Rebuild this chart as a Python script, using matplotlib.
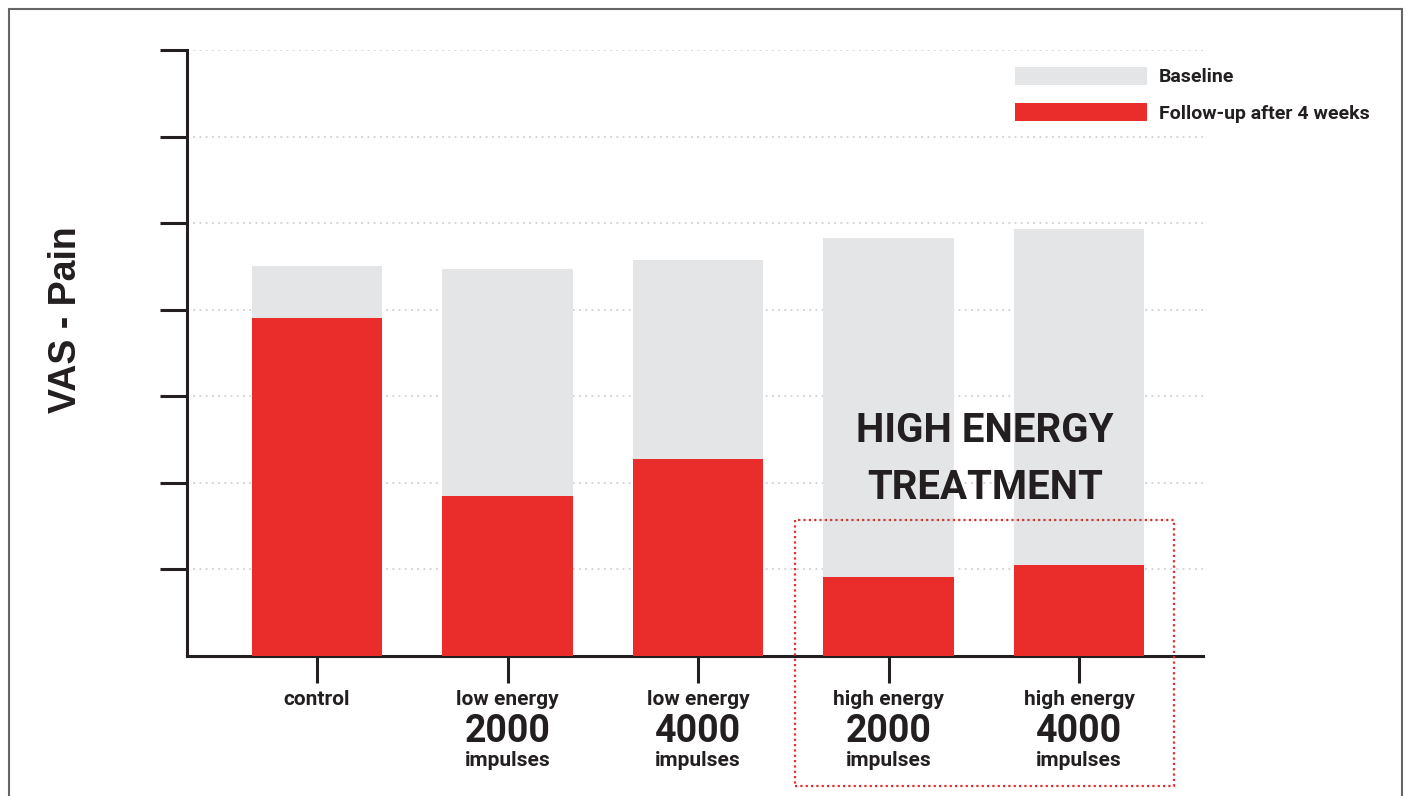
import matplotlib
matplotlib.use("Agg")
import matplotlib.pyplot as plt
from matplotlib.patches import Rectangle
import numpy as np

# VAS pain scores per group
groups = ["control", "low energy", "low energy", "high energy", "high energy"]
doses = ["", "2000", "4000", "2000", "4000"]
baseline = [4.50, 4.47, 4.58, 4.83, 4.93]
follow_up = [3.90, 1.85, 2.27, 0.91, 1.05]

GREY = "#e4e5e7"
RED = "#ea2c2a"
INK = "#231f20"
FONT = "Roboto"

fig = plt.figure(figsize=(14.07, 7.96), dpi=100)
ax = fig.add_axes([187 / 1407, 140 / 796, 1016 / 1407, 606 / 796])

x = np.arange(len(groups))
ax.bar(x, baseline, width=0.684, color=GREY, zorder=2, label="Baseline")
ax.bar(x, follow_up, width=0.684, color=RED, zorder=3, label="Follow-up after 4 weeks")

ax.set_xlim(-0.682, 4.65)
ax.set_ylim(0, 7)
ax.set_yticks(np.arange(1, 8))
ax.set_yticklabels([])
ax.set_xticks(x)
ax.set_xticklabels([])
ax.tick_params(axis="both", length=19.5, width=2.2, color=INK, direction="out")
ax.grid(axis="y", color="#d6d6d6", linestyle=(0, (1, 2.2)), linewidth=1.4, zorder=0)

for side in ["top", "right"]:
    ax.spines[side].set_visible(False)
for side in ["left", "bottom"]:
    ax.spines[side].set_linewidth(2.2)
    ax.spines[side].set_color(INK)

ax.set_ylabel("VAS - Pain", fontsize=27, fontweight="bold", family="Liberation Sans",
              color=INK)
ax.yaxis.set_label_coords(-0.101, 0.555)

# group labels under the axis
for xi, g, d in zip(x, groups, doses):
    ax.text(xi, -0.50, g, ha="center", va="center", fontsize=15, fontweight="bold",
            family=FONT, color=INK, clip_on=False)
    if d:
        ax.text(xi, -0.875, d, ha="center", va="center", fontsize=27, fontweight="bold",
                family=FONT, color=INK, clip_on=False)
        ax.text(xi, -1.205, "impulses", ha="center", va="center", fontsize=15,
                fontweight="bold", family=FONT, color=INK, clip_on=False)

ax.text(3.507, 2.60, "HIGH ENERGY", ha="center", va="center", fontsize=29,
        fontweight="bold", family=FONT, color=INK, zorder=5)
ax.text(3.507, 1.94, "TREATMENT", ha="center", va="center", fontsize=29,
        fontweight="bold", family=FONT, color=INK, zorder=5)

# dotted outline around the high energy groups
ax.add_patch(Rectangle((2.509, -1.50), 1.99, 3.071, fill=False, edgecolor=RED,
                       linewidth=1.6, linestyle=(0, (1, 1.4)), clip_on=False, zorder=6))

ax.legend(loc="upper left", bbox_to_anchor=(1005 / 1407, 1 - 57 / 796),
          bbox_transform=fig.transFigure, frameon=False, borderpad=0,
          handlelength=6.8, handleheight=1.05, handletextpad=0.62, labelspacing=0.85,
          prop={"family": FONT, "weight": "bold", "size": 14}, labelcolor=INK)

# outer frame
fig.patches.append(Rectangle((8.5 / 1407, -0.02), 1393 / 1407, 1 - 8.5 / 796 + 0.02,
                             transform=fig.transFigure, fill=False, edgecolor="#666666",
                             linewidth=1.5, figure=fig))

fig.savefig("out.png", dpi=100)
